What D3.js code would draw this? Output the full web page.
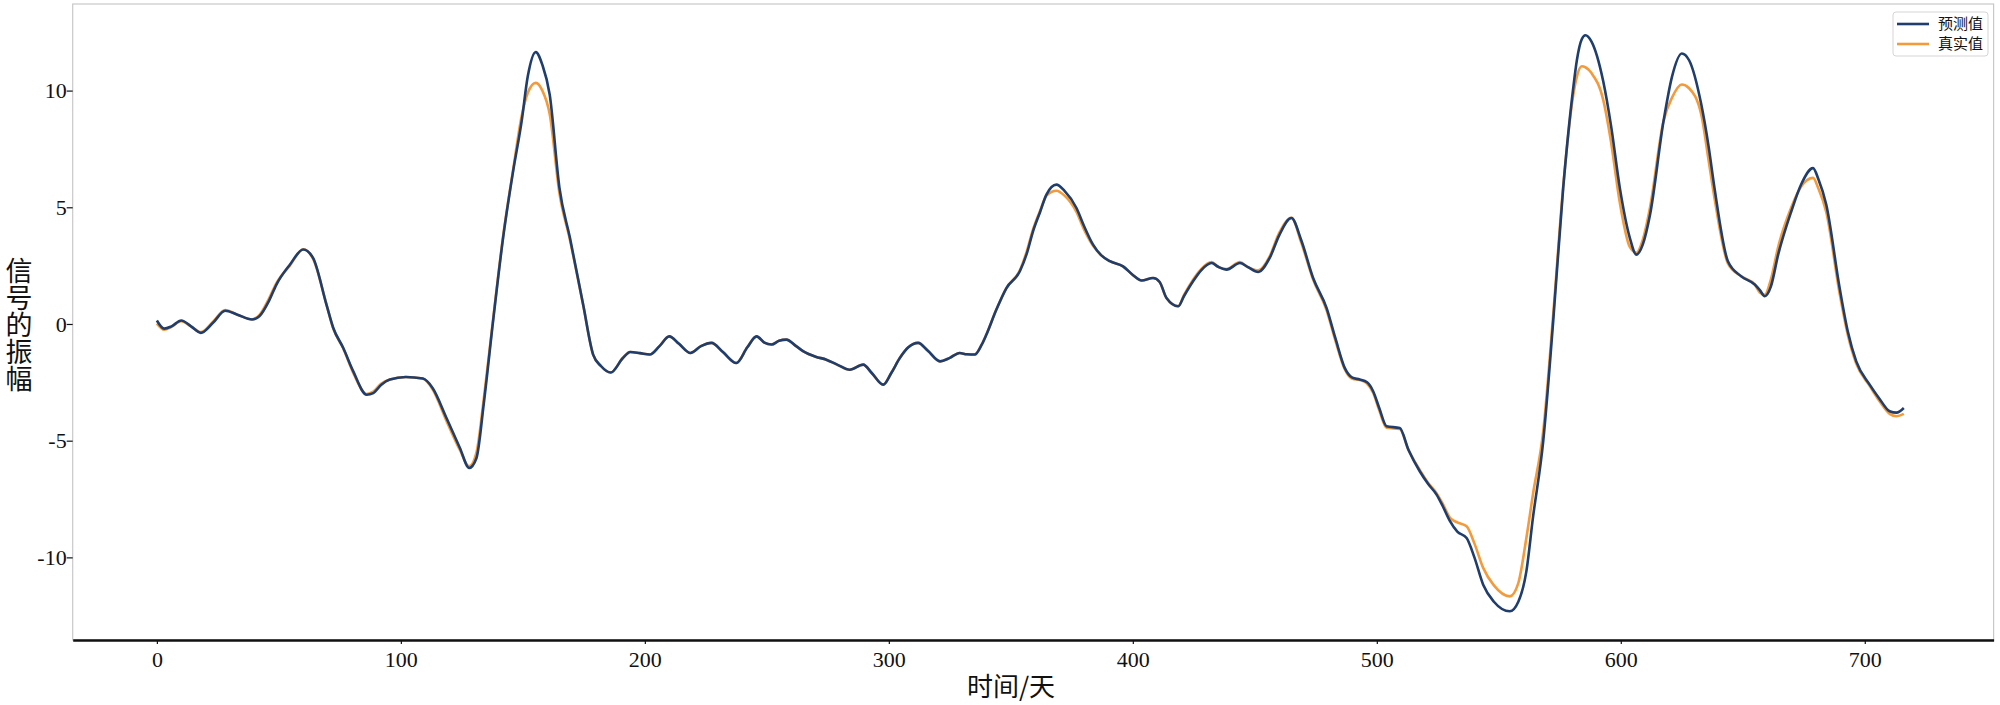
<!DOCTYPE html>
<html><head><meta charset="utf-8">
<script src="https://cdn.jsdelivr.net/npm/d3@7"></script>
<style>
html,body{margin:0;padding:0;background:#fff;}
svg{display:block;}
</style></head>
<body>
<svg id="chart" width="2000" height="705"></svg>
<script>
// ---- data ----
const days = [0,3,6,10,14,18,23,28,33,39,42,46,49,54.5,60,64,69.5,72.3,76.4,80.5,86,88.7,92,95.5,102,109,113,118.7,124.2,128,131,134,137.8,141.9,146,149.5,152,155.3,158,161,165,169.3,174.7,178.8,182,186,191,194,198,202,206,210,214,218.7,223,227.3,232,237.5,242,245.8,249,251.9,255,258,262,265,270,274.4,279,284,289.5,293,297.7,301,304.5,308,312,316,321,325,329,332,335.2,338,340,344,348.2,353.7,356.5,359.1,362,364.6,368.7,372,376.9,380,383.7,387,390.6,396,400,403.6,408.3,411,413.8,418.6,421,424.7,428,432.3,435,438.4,443.9,447,451.4,456.1,460,465,469,473.9,479.4,483,486.9,490,493,496,498.5,501,504,509.4,513,517.6,521,524.5,527,530,533,536.8,540,543.6,548,554.5,558,561.3,564,568.2,572.3,576.4,580.5,582,584,585.5,588,592.8,596,599.6,603.7,606.4,609,612,617.5,621,625,628,633,636,638.4,643.9,649.4,654.9,657,659,661.5,664.5,669.9,674,678.8,681,684.2,689.7,693,696.5,702,706,710.2,713,716];
const predicted = [0.15,-0.2,-0.1,0.15,-0.1,-0.38,0.05,0.57,0.4,0.19,0.33,1.0,1.69,2.54,3.19,2.83,0.83,-0.17,-1.03,-2.03,-3.03,-2.96,-2.6,-2.38,-2.27,-2.34,-2.74,-4.03,-5.31,-6.17,-5.74,-3.4,0.12,3.69,6.54,8.68,10.6,11.65,11.1,9.83,5.83,3.69,0.83,-1.31,-1.8,-2.08,-1.46,-1.2,-1.25,-1.31,-0.95,-0.53,-0.85,-1.24,-0.95,-0.81,-1.2,-1.67,-1.0,-0.53,-0.8,-0.88,-0.72,-0.67,-0.95,-1.17,-1.4,-1.53,-1.75,-1.96,-1.74,-2.1,-2.6,-2.1,-1.46,-1.0,-0.81,-1.15,-1.6,-1.45,-1.24,-1.3,-1.31,-0.9,-0.45,0.6,1.54,2.26,3.0,3.97,4.8,5.54,5.97,5.7,4.97,4.2,3.4,2.95,2.69,2.47,2.1,1.86,1.97,1.8,1.11,0.76,1.2,1.83,2.3,2.61,2.45,2.33,2.61,2.45,2.23,2.83,3.8,4.54,3.6,1.97,0.69,-0.6,-1.89,-2.3,-2.38,-2.5,-2.88,-3.6,-4.38,-4.46,-5.4,-6.31,-6.85,-7.31,-7.8,-8.45,-8.9,-9.17,-10.0,-11.17,-11.9,-12.31,-11.9,-10.6,-8.3,-5.03,0.12,5.83,10.1,11.3,12.2,12.37,12.1,10.4,8.5,5.83,3.69,2.97,3.4,4.69,8.68,10.6,11.59,11.3,9.4,7.6,5.83,2.69,2.04,1.69,1.45,1.19,1.6,2.97,4.83,6.0,6.68,6.2,5.12,1.54,-0.3,-1.6,-2.6,-3.2,-3.74,-3.8,-3.6];
const actual = [0.02,-0.25,-0.12,0.12,-0.1,-0.35,0.1,0.6,0.4,0.2,0.38,1.1,1.75,2.5,3.2,2.8,0.85,-0.2,-1.05,-2.1,-3.0,-2.9,-2.55,-2.38,-2.27,-2.34,-2.8,-4.15,-5.4,-6.1,-5.5,-3.2,0.2,3.75,6.6,8.9,9.9,10.33,10.0,9.0,5.6,3.6,0.83,-1.31,-1.8,-2.08,-1.46,-1.2,-1.25,-1.31,-0.95,-0.53,-0.85,-1.24,-0.95,-0.81,-1.2,-1.67,-1.0,-0.53,-0.8,-0.88,-0.72,-0.67,-0.95,-1.17,-1.4,-1.53,-1.75,-1.96,-1.74,-2.1,-2.6,-2.1,-1.46,-1.0,-0.81,-1.15,-1.6,-1.45,-1.24,-1.3,-1.31,-0.9,-0.45,0.6,1.54,2.3,3.1,4.05,4.85,5.5,5.71,5.5,4.8,4.05,3.35,2.95,2.69,2.47,2.1,1.86,1.97,1.8,1.11,0.76,1.25,1.9,2.35,2.65,2.45,2.35,2.65,2.45,2.3,2.9,3.9,4.55,3.5,1.9,0.6,-0.7,-1.95,-2.35,-2.4,-2.55,-2.95,-3.7,-4.45,-4.5,-5.4,-6.25,-6.8,-7.25,-7.7,-8.3,-8.5,-8.67,-9.4,-10.45,-11.2,-11.67,-11.1,-9.17,-7.3,-4.6,0.4,5.9,9.8,10.6,11.04,11.0,10.75,9.6,7.8,5.2,3.3,3.05,3.6,5.0,8.7,9.7,10.26,10.1,8.97,7.0,5.4,2.6,2.04,1.69,1.35,1.25,1.9,3.3,5.0,5.9,6.26,5.8,4.8,1.3,-0.45,-1.7,-2.65,-3.3,-3.85,-3.95,-3.85];
const xTicks = [0,100,200,300,400,500,600,700];
const yTicks = [-10,-5,0,5,10];
const seriesNames = ["预测值","真实值"];
const seriesColors = ["#1f3d6d","#f39a3a"];

// ---- layout ----
const svg = d3.select("#chart");
const L = 72.7, R = 1993.6, T = 4, B = 640;
const x = d3.scaleLinear().domain([-34.5, 752.8]).range([L, R]);
const y = d3.scaleLinear().domain([-13.54, 13.71]).range([B, T]);

// frame (light gray spines)
svg.append("rect").attr("x", L).attr("y", T).attr("width", R - L).attr("height", B - T)
  .attr("fill", "none").attr("stroke", "#c8c8c8").attr("stroke-width", 1.2);

// x axis
const xAxis = svg.append("g").attr("transform", `translate(0,${B})`)
  .call(d3.axisBottom(x).tickValues(xTicks).tickFormat(d => String(d)).tickSize(4).tickSizeOuter(0));
xAxis.select(".domain").attr("stroke", "#111").attr("stroke-width", 2.6);
xAxis.selectAll(".tick line").attr("stroke", "#111").attr("stroke-width", 1.2);
xAxis.selectAll("text").attr("font-family", "'Liberation Serif', serif").attr("font-size", 22)
  .attr("fill", "#111").attr("dy", "0.9em");

// y axis
const yAxis = svg.append("g").attr("transform", `translate(${L},0)`)
  .call(d3.axisLeft(y).tickValues(yTicks).tickFormat(d => String(d)).tickSize(6).tickSizeOuter(0));
yAxis.select(".domain").remove();
yAxis.selectAll(".tick line").attr("stroke", "#111").attr("stroke-width", 1.2);
yAxis.selectAll("text").attr("font-family", "'Liberation Serif', serif").attr("font-size", 22)
  .attr("fill", "#111").attr("x", -6);

// axis titles
svg.append("text").attr("x", 1011).attr("y", 696).attr("text-anchor", "middle")
  .attr("font-family", "'Noto Sans CJK SC', sans-serif").attr("font-size", 26).attr("fill", "#111")
  .text("时间/天");
svg.append("text").attr("x", 19).attr("y", 325).attr("text-anchor", "middle")
  .style("writing-mode", "vertical-rl").style("text-orientation", "upright")
  .attr("font-family", "'Noto Sans CJK SC', sans-serif").attr("font-size", 27).attr("fill", "#111")
  .text("信号的振幅");

// lines
const seriesData = [predicted, actual];
const line = d3.line().curve(d3.curveMonotoneX);
const g = svg.append("g");
[1, 0].forEach(k => {
  const pts = days.map((d, i) => [x(d), y(seriesData[k][i])]);
  g.append("path").attr("d", line(pts)).attr("fill", "none")
    .attr("stroke", seriesColors[k]).attr("stroke-width", 2.6).attr("stroke-linejoin", "round");
});

// legend
const lg = svg.append("g");
lg.append("rect").attr("x", 1893).attr("y", 12).attr("width", 95).attr("height", 44).attr("rx", 3)
  .attr("fill", "#fff").attr("fill-opacity", 0.85).attr("stroke", "#d5d5d5").attr("stroke-width", 1);
seriesNames.forEach((n, i) => {
  const yy = 24 + i * 20;
  lg.append("line").attr("x1", 1897).attr("x2", 1929).attr("y1", yy).attr("y2", yy)
    .attr("stroke", seriesColors[i]).attr("stroke-width", 2.6);
  lg.append("text").attr("x", 1938).attr("y", yy).attr("dy", "0.36em")
    .attr("font-family", "'Noto Sans CJK SC', sans-serif").attr("font-size", 15).attr("fill", "#111")
    .text(n);
});
</script>
</body></html>
